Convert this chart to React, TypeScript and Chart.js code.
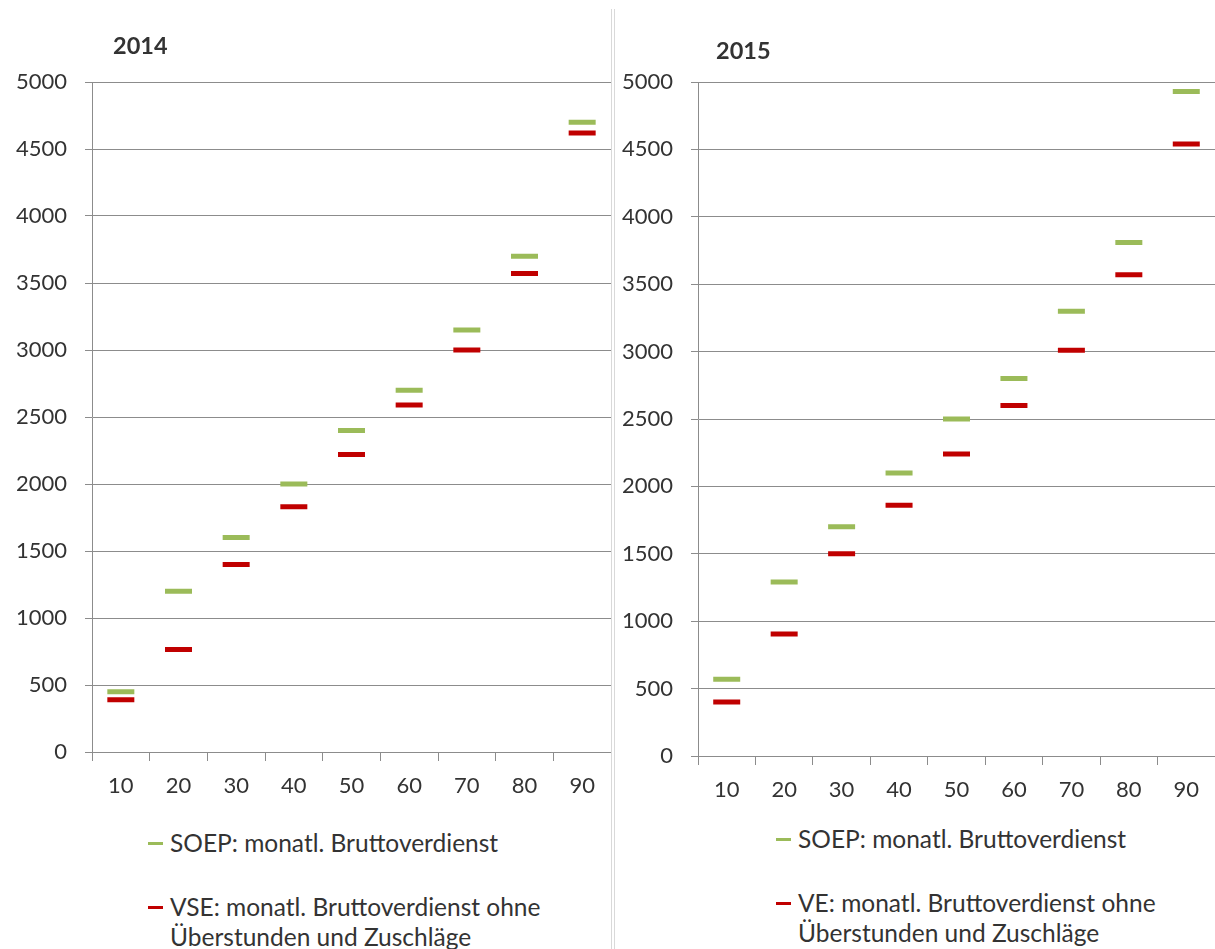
import React, { useEffect, useRef } from "react";
import { Chart, registerables } from "chart.js";

Chart.register(...registerables);

// Percentile categories (x axis)
const percentiles = ["10", "20", "30", "40", "50", "60", "70", "80", "90"];

// 2014 values (monthly gross earnings, EUR)
const soep2014 = [450, 1200, 1600, 2000, 2400, 2700, 3150, 3700, 4700];
const vse2014 = [390, 765, 1400, 1830, 2220, 2590, 3000, 3570, 4620];

// 2015 values
const soep2015 = [570, 1290, 1700, 2100, 2500, 2800, 3300, 3810, 4930];
const ve2015 = [400, 905, 1500, 1860, 2240, 2600, 3010, 3570, 4540];

// Axis range
const yMin = 0;
const yMax = 5000;
const yStep = 500;

const GREEN = "#9BBB59";
const RED = "#C00000";
const GRID = "#8c8c8c";
const TEXT = "#333333";
const FONT = "Lato, 'Open Sans', sans-serif";

type PanelProps = {
  left: number;
  width: number;
  height: number;
  soep: number[];
  other: number[];
  soepLabel: string;
  otherLabel: string;
};

function ChartCanvas({ left, width, height, soep, other, soepLabel, otherLabel }: PanelProps) {
  const ref = useRef<HTMLCanvasElement | null>(null);
  useEffect(() => {
    if (!ref.current) return;
    const mk = (label: string, data: number[], color: string) => ({
      label,
      data,
      showLine: false,
      pointStyle: "line" as const,
      pointRadius: 13.5,
      pointHoverRadius: 13.5,
      pointBorderWidth: 5,
      pointHoverBorderWidth: 5,
      pointBorderColor: color,
      pointBackgroundColor: color,
      borderColor: color,
      backgroundColor: color,
    });
    const chart = new Chart(ref.current, {
      type: "line",
      data: {
        labels: percentiles,
        datasets: [mk(soepLabel, soep, GREEN), mk(otherLabel, other, RED)],
      },
      options: {
        responsive: false,
        animation: false,
        devicePixelRatio: 1,
        layout: { autoPadding: false, padding: { top: 82, left: 0, right: 0, bottom: 0 } },
        plugins: { legend: { display: false }, title: { display: false }, tooltip: { enabled: false } },
        scales: {
          x: {
            type: "category",
            offset: true,
            grid: { offset: true, drawOnChartArea: false, drawTicks: true, tickLength: 9, color: GRID, lineWidth: 1 },
            border: { color: GRID, width: 1 },
            ticks: { padding: 12, color: TEXT, font: { family: FONT, size: 22 } },
            afterFit: (s: any) => {
              s.height = 60;
              s.paddingLeft = 0;
              s.paddingRight = 0;
            },
          },
          y: {
            min: yMin,
            max: yMax,
            ticks: {
              stepSize: yStep,
              padding: 18,
              color: TEXT,
              font: { family: FONT, size: 22 },
              callback: (v: any) => String(v),
            },
            grid: { color: GRID, lineWidth: 1, tickLength: 7 },
            border: { color: GRID, width: 1 },
            afterFit: (s: any) => {
              s.width = 92;
              s.paddingTop = 0;
              s.paddingBottom = 0;
            },
          },
        },
      },
    });
    return () => chart.destroy();
  }, []);
  return (
    <canvas
      ref={ref}
      width={width}
      height={height}
      style={{ position: "absolute", left, top: 0, width, height }}
    />
  );
}

const legendText: React.CSSProperties = {
  position: "absolute",
  fontFamily: FONT,
  fontSize: 24.5,
  color: TEXT,
  lineHeight: "30px",
  whiteSpace: "nowrap",
};

function Marker({ x, y, color }: { x: number; y: number; color: string }) {
  return (
    <div style={{ position: "absolute", left: x, top: y - 1.5, width: 15, height: 3, background: color }} />
  );
}

export default function App() {
  return (
    <div style={{ position: "absolute", left: 0, top: 0, width: 1215, height: 949, background: "#fff", overflow: "hidden" }}>
      <ChartCanvas
        left={0}
        width={611}
        height={812}
        soep={soep2014}
        other={vse2014}
        soepLabel="SOEP: monatl. Bruttoverdienst"
        otherLabel="VSE: monatl. Bruttoverdienst ohne Überstunden und Zuschläge"
      />
      <ChartCanvas
        left={606}
        width={609}
        height={816}
        soep={soep2015}
        other={ve2015}
        soepLabel="SOEP: monatl. Bruttoverdienst"
        otherLabel="VE: monatl. Bruttoverdienst ohne Überstunden und Zuschläge"
      />
      {/* separator */}
      <div style={{ position: "absolute", left: 611, top: 9, width: 1, height: 940, background: "#d9d9d9" }} />
      <div style={{ position: "absolute", left: 614, top: 9, width: 1, height: 940, background: "#d9d9d9" }} />

      {/* titles */}
      <div style={{ ...legendText, left: 113, top: 30, fontWeight: 700, fontSize: 23.5 }}>2014</div>
      <div style={{ ...legendText, left: 716, top: 35, fontWeight: 700, fontSize: 23.5 }}>2015</div>

      {/* legend 2014 */}
      <Marker x={148} y={843} color={GREEN} />
      <div style={{ ...legendText, left: 170, top: 828 }}>SOEP: monatl. Bruttoverdienst</div>
      <Marker x={148} y={907} color={RED} />
      <div style={{ ...legendText, left: 170, top: 892 }}>VSE: monatl. Bruttoverdienst ohne</div>
      <div style={{ ...legendText, left: 170, top: 922 }}>Überstunden und Zuschläge</div>

      {/* legend 2015 */}
      <Marker x={776} y={839} color={GREEN} />
      <div style={{ ...legendText, left: 798, top: 824 }}>SOEP: monatl. Bruttoverdienst</div>
      <Marker x={776} y={903} color={RED} />
      <div style={{ ...legendText, left: 798, top: 888 }}>VE: monatl. Bruttoverdienst ohne</div>
      <div style={{ ...legendText, left: 798, top: 918 }}>Überstunden und Zuschläge</div>
    </div>
  );
}
